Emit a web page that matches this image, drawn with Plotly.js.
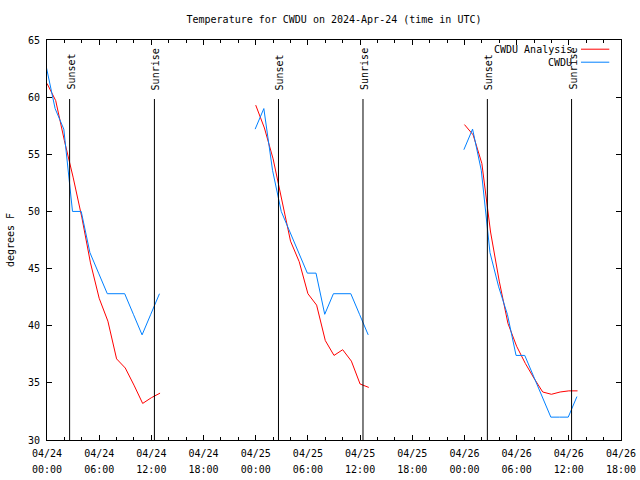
<!DOCTYPE html>
<html>
<head>
<meta charset="utf-8">
<script src="https://cdn.plot.ly/plotly-3.0.1.min.js"></script>
<style>html,body{margin:0;padding:0;background:#fff;}#chart{width:640px;height:480px;}</style>
</head>
<body>
<div id="chart"></div>
<script>
// ---- data ----
const seriesNames = ['CWDU Analysis', 'CWDU'];

const analysisTimes = [
  '2024-04-24 00:00','2024-04-24 01:00','2024-04-24 02:00','2024-04-24 03:00','2024-04-24 04:00','2024-04-24 05:00','2024-04-24 06:00',
  '2024-04-24 07:00','2024-04-24 08:00','2024-04-24 09:00','2024-04-24 10:00','2024-04-24 11:00','2024-04-24 12:00','2024-04-24 13:00',
  '2024-04-24 18:00',
  '2024-04-25 00:00','2024-04-25 01:00','2024-04-25 02:00','2024-04-25 03:00','2024-04-25 04:00','2024-04-25 05:00','2024-04-25 06:00',
  '2024-04-25 07:00','2024-04-25 08:00','2024-04-25 09:00','2024-04-25 10:00','2024-04-25 11:00','2024-04-25 12:00','2024-04-25 13:00',
  '2024-04-25 18:00',
  '2024-04-26 00:00','2024-04-26 01:00','2024-04-26 02:00','2024-04-26 03:00','2024-04-26 04:00','2024-04-26 05:00','2024-04-26 06:00',
  '2024-04-26 07:00','2024-04-26 08:00','2024-04-26 09:00','2024-04-26 10:00','2024-04-26 11:00','2024-04-26 12:00','2024-04-26 13:00'
];
const analysisTemps = [
  61.2, 59.7, 56.2, 53.0, 49.5, 45.5, 42.4, 40.4, 37.1, 36.3, 34.8, 33.2, 33.7, 34.1,
  null,
  59.3, 57.3, 54.6, 50.9, 47.4, 45.6, 42.8, 41.8, 38.7, 37.4, 37.9, 36.9, 34.9, 34.6,
  null,
  57.6, 56.7, 54.2, 48.2, 43.9, 40.2, 38.2, 36.7, 35.4, 34.2, 34.0, 34.2, 34.3, 34.3
];

const obsTimes = [
  '2024-04-23 23:56','2024-04-24 00:56','2024-04-24 01:56','2024-04-24 02:56','2024-04-24 03:56','2024-04-24 04:56','2024-04-24 05:56',
  '2024-04-24 06:56','2024-04-24 07:56','2024-04-24 08:56','2024-04-24 09:56','2024-04-24 10:56','2024-04-24 11:56','2024-04-24 12:56',
  '2024-04-24 18:00',
  '2024-04-24 23:56','2024-04-25 00:56','2024-04-25 01:56','2024-04-25 02:56','2024-04-25 03:56','2024-04-25 04:56','2024-04-25 05:56',
  '2024-04-25 06:56','2024-04-25 07:56','2024-04-25 08:56','2024-04-25 09:56','2024-04-25 10:56','2024-04-25 11:56','2024-04-25 12:56',
  '2024-04-25 18:00',
  '2024-04-25 23:56','2024-04-26 00:56','2024-04-26 01:56','2024-04-26 02:56','2024-04-26 03:56','2024-04-26 04:56','2024-04-26 05:56',
  '2024-04-26 06:56','2024-04-26 07:56','2024-04-26 08:56','2024-04-26 09:56','2024-04-26 10:56','2024-04-26 11:56','2024-04-26 12:56'
];
const obsTemps = [
  62.6, 59.0, 57.2, 50.0, 50.0, 46.4, 44.6, 42.8, 42.8, 42.8, 41.0, 39.2, 41.0, 42.8,
  null,
  57.2, 59.0, 53.6, 50.0, 48.2, 46.4, 44.6, 44.6, 41.0, 42.8, 42.8, 42.8, 41.0, 39.2,
  null,
  55.4, 57.2, 53.6, 46.4, 43.4, 41.0, 37.4, 37.4, 35.6, 33.8, 32.0, 32.0, 32.0, 33.8
];

const eventTimes = [
  '2024-04-24 02:36','2024-04-24 12:21',
  '2024-04-25 02:37','2024-04-25 12:20',
  '2024-04-26 02:38','2024-04-26 12:19'
];
const eventLabels = ['Sunset','Sunrise','Sunset','Sunrise','Sunset','Sunrise'];

const xRange = ['2024-04-24 00:00', '2024-04-26 18:00'];
const yRange = [30, 65];
const titleText = 'Temperature for CWDU on 2024-Apr-24 (time in UTC)';
const yTitle = 'degrees F';

// ---- styling ----
const FONT = 'DejaVu Sans Mono, Liberation Mono, monospace';
const font = {family: FONT, size: 10, color: '#000'};
const RED = '#ff0000';
const BLUE = 'rgb(0,128,255)';
const HOUR = 3600000;

const traces = [
  {x: analysisTimes, y: analysisTemps, type: 'scatter', mode: 'lines', name: seriesNames[0],
   line: {color: RED, width: 1}, connectgaps: false, showlegend: false},
  {x: obsTimes, y: obsTemps, type: 'scatter', mode: 'lines', name: seriesNames[1],
   line: {color: BLUE, width: 1}, connectgaps: false, showlegend: false},
  // empty helper trace so the second (time-of-day) label axis is drawn
  {x: [], y: [], type: 'scatter', mode: 'lines', xaxis: 'x2', yaxis: 'y', showlegend: false, hoverinfo: 'skip'}
];

const shapes = [];
const annotations = [];
eventTimes.forEach((t, i) => {
  shapes.push({type: 'line', xref: 'x', yref: 'paper', x0: t, x1: t, y0: 0, y1: 0.8525,
               line: {color: '#000', width: 1}});
  annotations.push({xref: 'x', yref: 'paper', x: t, y: 0.87, text: eventLabels[i], textangle: -90,
                    showarrow: false, xanchor: 'center', yanchor: 'bottom', xshift: 1, font: font});
});

// legend (text left of sample, as in gnuplot)
const legendY = [0.9755, 0.943];
const legendColors = [RED, BLUE];
seriesNames.forEach((n, i) => {
  annotations.push({xref: 'paper', yref: 'paper', x: 0.9185, y: legendY[i], text: n, showarrow: false,
                    xanchor: 'right', yanchor: 'middle', font: font});
  shapes.push({type: 'line', xref: 'paper', yref: 'paper', x0: 0.9303, x1: 0.9796,
               y0: legendY[i] + 0.0015, y1: legendY[i] + 0.0015, line: {color: legendColors[i], width: 1}});
});

const layout = {
  width: 640, height: 480,
  margin: {l: 47, r: 19, t: 40, b: 40},
  paper_bgcolor: '#fff', plot_bgcolor: '#fff',
  font: font,
  showlegend: false,
  title: {text: titleText, font: font, x: 0.5, xref: 'paper', xanchor: 'center',
          y: 1 - 19 / 480, yref: 'container', yanchor: 'middle'},
  xaxis: {
    type: 'date', range: xRange, tick0: xRange[0], dtick: 6 * HOUR, tickformat: '%m/%d',
    ticks: 'inside', ticklen: 5, tickwidth: 1, tickcolor: '#000',
    showline: true, linecolor: '#000', linewidth: 1, mirror: 'ticks',
    showgrid: false, zeroline: false, tickfont: font, ticklabelstandoff: 4,
    minor: {dtick: 2 * HOUR, tick0: xRange[0], ticks: 'inside', ticklen: 3, tickcolor: '#000', showgrid: false}
  },
  xaxis2: {
    type: 'date', range: xRange, tick0: xRange[0], dtick: 6 * HOUR, tickformat: '%H:%M',
    overlaying: 'x', anchor: 'y', side: 'bottom', autorange: false,
    ticks: '', showline: false, showgrid: false, zeroline: false, tickfont: font,
    ticklabelstandoff: 22
  },
  yaxis: {
    range: yRange, dtick: 5, tick0: 30,
    ticks: 'inside', ticklen: 5, tickwidth: 1, tickcolor: '#000',
    showline: true, linecolor: '#000', linewidth: 1, mirror: 'ticks',
    showgrid: false, zeroline: false, tickfont: font, ticklabelstandoff: 4,
    title: {text: yTitle, font: font, standoff: 11}
  },
  shapes: shapes,
  annotations: annotations
};

Plotly.newPlot('chart', traces, layout, {staticPlot: true, displayModeBar: false});
</script>
</body>
</html>
